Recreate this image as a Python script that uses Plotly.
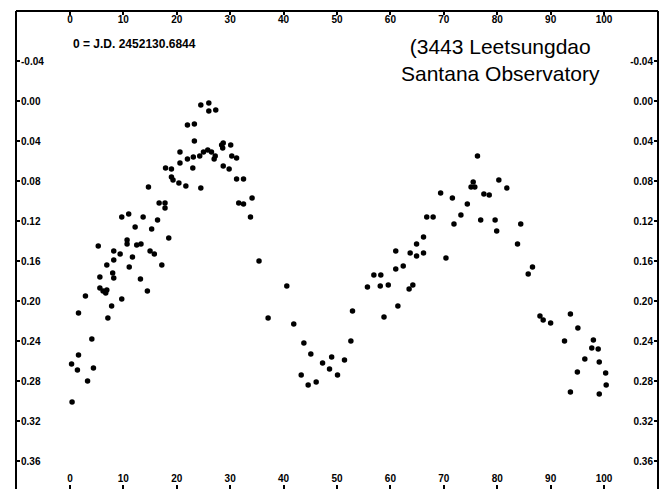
import plotly.graph_objects as go

# Lightcurve of (3443) Leetsungdao: phase in percent vs. differential magnitude
phase = [
    24.5, 26.0, 26.0, 27.3, 22.0, 23.3, 23.3, 20.6, 22.0, 23.1,
    24.3, 25.0, 25.8, 26.5, 27.0, 27.2, 28.4, 28.7, 28.6, 30.1,
    30.3, 31.2, 28.7, 29.8, 20.6, 23.0, 17.9, 19.0, 19.0, 19.3,
    20.4, 21.7, 24.5, 14.7, 31.2, 32.5, 34.1, 31.6, 32.5, 33.8,
    16.7, 17.8, 17.8, 9.7, 11.0, 13.7, 16.4, 12.2, 15.3, 18.5,
    10.7, 10.7, 12.5, 13.3, 5.3, 8.2, 9.4, 15.0, 15.8, 8.2,
    11.7, 6.9, 11.1, 17.2, 35.4, 5.6, 8.0, 13.2, 8.2, 5.6,
    6.2, 6.7, 6.9, 14.5, 2.9, 9.7, 7.8, 1.6, 7.1, 4.1,
    1.6, 0.3, 1.4, 4.4, 3.3, 0.4, 40.6, 37.1, 41.9, 43.8,
    45.1, 47.3, 49.0, 48.6, 50.1, 51.4, 43.3, 44.6, 46.1, 52.6,
    52.9, 55.7, 56.9, 58.2, 58.1, 59.6, 58.8, 61.4, 61.0, 61.0,
    62.4, 63.5, 64.2, 63.7, 64.9, 64.9, 66.2, 66.2, 66.8, 68.0,
    76.3, 75.5, 75.1, 75.8, 80.3, 81.8, 77.5, 78.5, 69.4, 71.6,
    74.4, 73.2, 71.9, 76.9, 79.6, 79.9, 84.4, 83.8, 86.6, 85.8,
    70.4, 88.0, 88.6, 90.0, 93.7, 95.1, 92.6, 98.0, 97.7, 98.9,
    96.4, 95.0, 99.1, 93.7, 99.1, 100.3, 100.4,
]
mag = [
    0.004, 0.002, 0.010, 0.009, 0.024, 0.023, 0.040, 0.051, 0.058, 0.056,
    0.055, 0.051, 0.049, 0.051, 0.058, 0.055, 0.044, 0.042, 0.047, 0.044,
    0.055, 0.057, 0.065, 0.068, 0.062, 0.067, 0.067, 0.068, 0.076, 0.079,
    0.082, 0.085, 0.087, 0.086, 0.078, 0.078, 0.097, 0.102, 0.103, 0.116,
    0.102, 0.102, 0.107, 0.116, 0.113, 0.116, 0.119, 0.126, 0.128, 0.137,
    0.139, 0.143, 0.144, 0.143, 0.145, 0.150, 0.153, 0.150, 0.153, 0.159,
    0.156, 0.164, 0.166, 0.164, 0.160, 0.176, 0.172, 0.178, 0.177, 0.187,
    0.190, 0.192, 0.189, 0.190, 0.195, 0.198, 0.205, 0.212, 0.217, 0.238,
    0.254, 0.263, 0.269, 0.267, 0.280, 0.301, 0.185, 0.217, 0.223, 0.242,
    0.253, 0.262, 0.256, 0.268, 0.274, 0.259, 0.274, 0.284, 0.281, 0.240,
    0.210, 0.186, 0.174, 0.174, 0.185, 0.184, 0.216, 0.205, 0.168, 0.150,
    0.165, 0.188, 0.184, 0.152, 0.155, 0.143, 0.152, 0.136, 0.116, 0.116,
    0.055, 0.081, 0.086, 0.086, 0.079, 0.087, 0.093, 0.094, 0.092, 0.097,
    0.103, 0.114, 0.123, 0.119, 0.119, 0.130, 0.123, 0.143, 0.166, 0.173,
    0.157, 0.215, 0.219, 0.222, 0.213, 0.227, 0.240, 0.239, 0.247, 0.248,
    0.258, 0.271, 0.261, 0.291, 0.293, 0.272, 0.284,
]

x_ticks = [0, 10, 20, 30, 40, 50, 60, 70, 80, 90, 100]
y_ticks = [-0.04, 0.00, 0.04, 0.08, 0.12, 0.16, 0.20, 0.24, 0.28, 0.32, 0.36]
y_tick_labels = ["-0.04", "0.00", "0.04", "0.08", "0.12", "0.16",
                 "0.20", "0.24", "0.28", "0.32", "0.36"]

epoch_text = "0 = J.D. 2452130.6844"
title_text = "(3443 Leetsungdao<br>Santana Observatory"

FONT = "Liberation Sans, Arial, sans-serif"
tick_font = dict(family=FONT, size=10, color="black", weight="bold")

fig = go.Figure()
fig.add_trace(go.Scatter(
    x=phase, y=mag, mode="markers",
    marker=dict(symbol="circle", size=5.5, color="black", line=dict(width=0)),
    showlegend=False, hoverinfo="skip",
))
# empty trace so the mirrored top/right axes are attached to data
fig.add_trace(go.Scatter(x=[], y=[], xaxis="x2", yaxis="y2", showlegend=False))

x_range = [-10.1, 110.1]
y_range = [0.388, -0.090]

common_x = dict(range=x_range, tickvals=x_ticks, ticks="inside", ticklen=4,
                tickwidth=1.5, tickcolor="black", ticklabelposition="inside",
                tickfont=tick_font, showgrid=False, zeroline=False,
                showline=False)
common_y = dict(range=y_range, tickvals=y_ticks, ticktext=y_tick_labels,
                ticks="inside", ticklen=4, tickwidth=1.5, tickcolor="black",
                ticklabelposition="inside", tickfont=tick_font,
                showgrid=False, zeroline=False, showline=False)

fig.update_layout(
    width=661, height=489,
    margin=dict(l=16, r=3, t=11, b=0),
    paper_bgcolor="white", plot_bgcolor="white",
    xaxis=dict(side="bottom", **common_x),
    xaxis2=dict(side="top", overlaying="x", matches="x", **common_x),
    yaxis=dict(side="left", **common_y),
    yaxis2=dict(side="right", overlaying="y", matches="y", **common_y),
    shapes=[
        dict(type="line", xref="paper", yref="paper", x0=0, x1=0, y0=0, y1=1,
             line=dict(color="black", width=2)),
        dict(type="line", xref="paper", yref="paper", x0=0, x1=1, y0=1, y1=1,
             line=dict(color="black", width=2)),
        dict(type="line", xref="paper", yref="paper", x0=1, x1=1, y0=0, y1=1,
             line=dict(color="black", width=2)),
    ],
    annotations=[
        dict(text=epoch_text, x=0.2, y=-0.057, xref="x", yref="y",
             xanchor="left", yanchor="middle", showarrow=False,
             font=dict(family=FONT, size=12, color="black", weight="bold")),
        dict(text=title_text, x=80.6, y=-0.041, xref="x", yref="y",
             xanchor="center", yanchor="middle", showarrow=False,
             align="center",
             font=dict(family=FONT, size=21, color="black")),
    ],
)

fig.write_html("out.html")
